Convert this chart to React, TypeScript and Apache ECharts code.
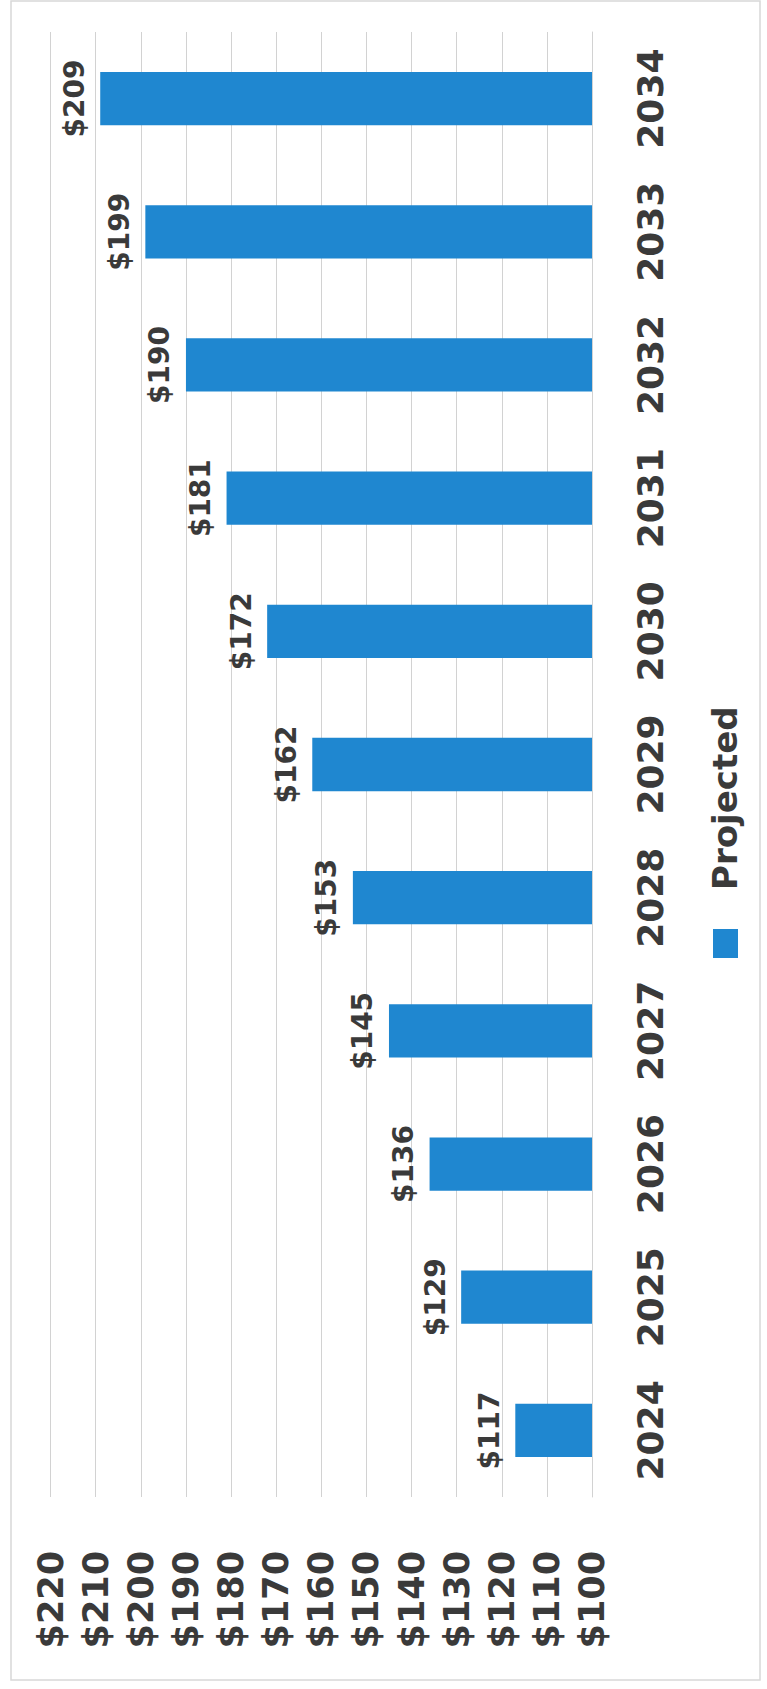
import React, { useEffect, useRef } from "react";
import * as echarts from "echarts";

const years = ["2024", "2025", "2026", "2027", "2028", "2029", "2030", "2031", "2032", "2033", "2034"];
const projected = [117, 129, 136, 145, 153, 162, 172, 181, 190, 199, 209];
const axisMin = 100;
const axisMax = 220;
const axisStep = 10;
const seriesName = "Projected";

const FONT = "DejaVu Sans";
const TEXT = "#3a3a3a";
const BLUE = "#1f87d0";
const GRID = "#d2d2d2";

export default function App() {
  const ref = useRef<HTMLDivElement>(null);
  useEffect(() => {
    document.body.style.margin = "0";
    const chart = echarts.init(ref.current!, null, { renderer: "svg" });
    chart.setOption({
      animation: false,
      backgroundColor: "#ffffff",
      grid: { left: 50.6, right: 175, top: 32, bottom: 192 },
      xAxis: {
        type: "value",
        inverse: true,
        min: axisMin,
        max: axisMax,
        interval: axisStep,
        position: "bottom",
        axisLine: { show: false },
        axisTick: { show: false },
        splitLine: { show: true, lineStyle: { color: GRID, width: 1 } },
        axisLabel: {
          rotate: 90,
          margin: 54,
          formatter: (v: number) => "$" + v,
          fontSize: 35,
          fontWeight: "bold",
          fontFamily: FONT,
          color: TEXT,
        },
      },
      yAxis: {
        type: "category",
        data: years,
        position: "right",
        axisLine: { show: true, onZero: false, lineStyle: { color: GRID } },
        axisTick: { show: false },
        axisLabel: {
          rotate: 90,
          margin: 40,
          fontSize: 36,
          fontWeight: "bold",
          fontFamily: FONT,
          color: TEXT,
        },
      },
      series: [
        {
          name: seriesName,
          type: "bar",
          data: projected,
          barWidth: "40%",
          itemStyle: { color: BLUE },
          label: {
            show: true,
            position: "left",
            rotate: 90,
            align: "center",
            verticalAlign: "bottom",
            distance: 12,
            formatter: (p: any) => "$" + p.value,
            fontSize: 28,
            fontWeight: "bold",
            fontFamily: FONT,
            color: TEXT,
          },
        },
      ],
      graphic: [
        {
          type: "rect",
          shape: { x: 11, y: 1, width: 749, height: 1679 },
          style: { fill: "none", stroke: "#d8d8d8", lineWidth: 1.5 },
          silent: true,
        },
        {
          type: "rect",
          shape: { x: 713, y: 929, width: 25, height: 29 },
          style: { fill: BLUE },
        },
        {
          type: "text",
          x: 725,
          y: 890,
          rotation: Math.PI / 2,
          style: {
            text: seriesName,
            fontSize: 34,
            fontWeight: "bold",
            fontFamily: FONT,
            fill: TEXT,
            align: "left",
            verticalAlign: "middle",
          },
        },
      ],
    });
    return () => chart.dispose();
  }, []);
  return <div ref={ref} style={{ width: 767, height: 1689 }} />;
}
